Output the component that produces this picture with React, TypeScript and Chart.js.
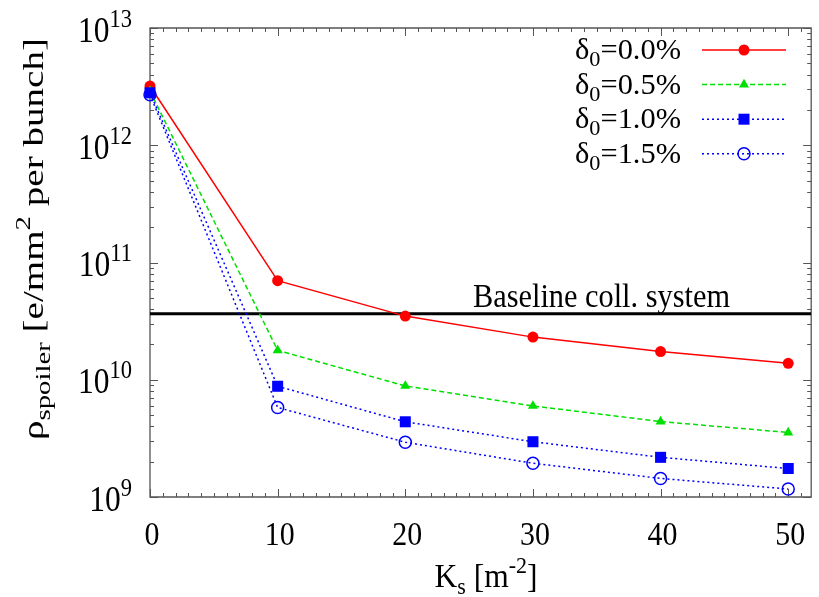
import React, { useEffect, useRef } from 'react';
import { Chart, registerables } from 'chart.js';

Chart.register(...registerables);

// ---------- data ----------
const ksValues = [0, 10, 20, 30, 40, 50];
const rhoDelta00 = [3.2e12, 7.0e10, 3.49e10, 2.31e10, 1.74e10, 1.38e10];
const rhoDelta05 = [2.9e12, 1.78e10, 8.85e9, 5.98e9, 4.4e9, 3.55e9];
const rhoDelta10 = [2.8e12, 8.8e9, 4.38e9, 2.96e9, 2.18e9, 1.75e9];
const rhoDelta15 = [2.7e12, 5.8e9, 2.93e9, 1.94e9, 1.44e9, 1.17e9];
const seriesPercents = ['0.0%', '0.5%', '1.0%', '1.5%'];
const baselineValue = 3.66e10;
const baselineLabel = 'Baseline coll. system';
const xTickValues = [0, 10, 20, 30, 40, 50];
const yTickValues = [1e9, 1e10, 1e11, 1e12, 1e13];
const X_MIN = 0;
const X_MAX = 51.8;
const Y_MIN = 1e9;
const Y_MAX = 1e13;

// ---------- style ----------
const SERIF = '"Liberation Serif", "Times New Roman", serif';
const RED = '#ff0000';
const GREEN = '#00e000';
const BLUE = '#0000ff';
const AXIS = '#555555';

type Part = { t: string; size: number; dy?: number };

function drawRich(
  ctx: CanvasRenderingContext2D,
  parts: Part[],
  x: number,
  y: number,
  align: 'left' | 'center' | 'right',
  opts: { rot?: number; sx?: number; sy?: number; fitWidth?: number } = {}
) {
  ctx.save();
  ctx.fillStyle = '#000';
  ctx.textBaseline = 'alphabetic';
  ctx.textAlign = 'left';
  let total = 0;
  const widths = parts.map((p) => {
    ctx.font = `${p.size}px ${SERIF}`;
    const w = ctx.measureText(p.t).width;
    total += w;
    return w;
  });
  const sx = opts.fitWidth ? opts.fitWidth / total : opts.sx ?? 0.88;
  const sy = opts.sy ?? 1;
  ctx.translate(x, y);
  if (opts.rot) ctx.rotate(opts.rot);
  ctx.scale(sx, sy);
  let cx = align === 'left' ? 0 : align === 'right' ? -total : -total / 2;
  parts.forEach((p, i) => {
    ctx.font = `${p.size}px ${SERIF}`;
    ctx.fillText(p.t, cx, p.dy ?? 0);
    cx += widths[i];
  });
  ctx.restore();
}

type Marker = 'circle' | 'triangle' | 'rect' | 'ocircle';

function drawMarker(ctx: CanvasRenderingContext2D, kind: Marker, x: number, y: number, color: string) {
  ctx.save();
  ctx.setLineDash([]);
  ctx.fillStyle = color;
  ctx.strokeStyle = color;
  ctx.beginPath();
  if (kind === 'circle') {
    ctx.arc(x, y, 5.5, 0, Math.PI * 2);
    ctx.fill();
  } else if (kind === 'triangle') {
    const r = 5.8;
    for (let k = 0; k < 3; k++) {
      const a = (k * 2 * Math.PI) / 3;
      const px = x + Math.sin(a) * r;
      const py = y - Math.cos(a) * r;
      if (k === 0) ctx.moveTo(px, py);
      else ctx.lineTo(px, py);
    }
    ctx.closePath();
    ctx.fill();
  } else if (kind === 'rect') {
    ctx.rect(x - 5.5, y - 5.5, 11, 11);
    ctx.fill();
  } else {
    ctx.lineWidth = 1.5;
    ctx.arc(x, y, 6, 0, Math.PI * 2);
    ctx.stroke();
  }
  ctx.restore();
}

const legendSpecs: { color: string; dash: number[]; marker: Marker }[] = [
  { color: RED, dash: [], marker: 'circle' },
  { color: GREEN, dash: [5, 3], marker: 'triangle' },
  { color: BLUE, dash: [2, 3], marker: 'rect' },
  { color: BLUE, dash: [2, 3], marker: 'ocircle' },
];

const decorPlugin = {
  id: 'decor',
  beforeDatasetsDraw(chart: any) {
    const { ctx, chartArea: a, scales } = chart;
    const xs = scales.x;
    const ys = scales.y;
    ctx.save();
    ctx.strokeStyle = AXIS;
    ctx.lineWidth = 1.3;
    ctx.beginPath();
    ctx.rect(a.left, a.top, a.right - a.left, a.bottom - a.top);
    ctx.stroke();
    ctx.lineWidth = 1;
    ctx.beginPath();
    for (let v = 0; v <= Math.floor(X_MAX); v++) {
      const px = Math.round(xs.getPixelForValue(v)) + 0.5;
      const len = xTickValues.includes(v) ? 8 : 4;
      ctx.moveTo(px, a.bottom);
      ctx.lineTo(px, a.bottom - len);
      ctx.moveTo(px, a.top);
      ctx.lineTo(px, a.top + len);
    }
    for (let d = 9; d <= 13; d++) {
      for (let m = 1; m <= 9; m++) {
        const v = m * Math.pow(10, d);
        if (v > Y_MAX * 1.0001) break;
        const py = Math.round(ys.getPixelForValue(v)) + 0.5;
        const len = m === 1 ? 8 : 4;
        ctx.moveTo(a.left, py);
        ctx.lineTo(a.left + len, py);
        ctx.moveTo(a.right, py);
        ctx.lineTo(a.right - len, py);
      }
    }
    ctx.stroke();
    ctx.restore();
  },
  afterDraw(chart: any) {
    const { ctx, scales } = chart;
    const xs = scales.x;
    const ys = scales.y;
    // y tick labels
    yTickValues.forEach((v) => {
      const py = ys.getPixelForValue(v);
      const exp = String(Math.round(Math.log10(v)));
      drawRich(ctx, [{ t: '10', size: 35 }, { t: exp, size: 25, dy: -15 }], 132, py + 13.5, 'right', { sx: 0.9 });
    });
    // x tick labels
    xTickValues.forEach((v) => {
      const px = xs.getPixelForValue(v);
      drawRich(ctx, [{ t: String(v), size: 34 }], px + 2, 545, 'center', { sx: 0.88 });
    });
    // x title
    drawRich(
      ctx,
      [
        { t: 'K', size: 33 },
        { t: 's', size: 23, dy: 7 },
        { t: ' [m', size: 33 },
        { t: '-2', size: 23, dy: -14 },
        { t: ']', size: 33 },
      ],
      486,
      587,
      'center',
      { fitWidth: 103 }
    );
    // y title
    drawRich(
      ctx,
      [
        { t: 'ρ', size: 34 },
        { t: 'spoiler', size: 25, dy: 8 },
        { t: ' [e/mm', size: 34 },
        { t: '2', size: 25, dy: -15 },
        { t: ' per bunch]', size: 34 },
      ],
      43,
      239,
      'center',
      { rot: -Math.PI / 2, fitWidth: 402, sy: 0.86 }
    );
    // baseline label
    drawRich(ctx, [{ t: baselineLabel, size: 33 }], 473, 307, 'left', { fitWidth: 257 });
    // legend
    legendSpecs.forEach((s, i) => {
      const ly = 50 + i * 34.6;
      drawRich(
        ctx,
        [
          { t: 'δ', size: 30 },
          { t: '0', size: 22, dy: 7 },
          { t: '=' + seriesPercents[i], size: 30 },
        ],
        681,
        ly + 9,
        'right',
        { fitWidth: 106 }
      );
      ctx.save();
      ctx.strokeStyle = s.color;
      ctx.lineWidth = 1.5;
      ctx.setLineDash(s.dash);
      ctx.beginPath();
      ctx.moveTo(702, ly);
      ctx.lineTo(786, ly);
      ctx.stroke();
      ctx.restore();
      drawMarker(ctx, s.marker, 744, ly, s.color);
    });
  },
};

function series(values: number[]) {
  return ksValues.map((k, i) => ({ x: k, y: values[i] }));
}

export default function App() {
  const ref = useRef<HTMLCanvasElement>(null);
  useEffect(() => {
    const canvas = ref.current;
    if (!canvas) return;
    const chart = new Chart(canvas, {
      type: 'line',
      data: {
        datasets: [
          {
            label: 'δ0=' + seriesPercents[0],
            data: series(rhoDelta00),
            borderColor: RED,
            backgroundColor: RED,
            borderWidth: 1.5,
            pointStyle: 'circle',
            pointRadius: 5.5,
            pointBackgroundColor: RED,
            pointBorderColor: RED,
            pointBorderWidth: 0,
            clip: false,
            order: 3,
          },
          {
            label: 'δ0=' + seriesPercents[1],
            data: series(rhoDelta05),
            borderColor: GREEN,
            backgroundColor: GREEN,
            borderWidth: 1.5,
            borderDash: [5, 3],
            pointStyle: 'triangle',
            pointRadius: 5.8,
            pointBackgroundColor: GREEN,
            pointBorderColor: GREEN,
            pointBorderWidth: 0,
            clip: false,
            order: 2,
          },
          {
            label: 'δ0=' + seriesPercents[2],
            data: series(rhoDelta10),
            borderColor: BLUE,
            backgroundColor: BLUE,
            borderWidth: 1.5,
            borderDash: [2, 3],
            pointStyle: 'rect',
            pointRadius: 7.8,
            pointBackgroundColor: BLUE,
            pointBorderColor: BLUE,
            pointBorderWidth: 0,
            clip: false,
            order: 0,
          },
          {
            label: 'δ0=' + seriesPercents[3],
            data: series(rhoDelta15),
            borderColor: BLUE,
            backgroundColor: 'rgba(0,0,0,0)',
            borderWidth: 1.5,
            borderDash: [2, 3],
            pointStyle: 'circle',
            pointRadius: 6,
            pointBackgroundColor: 'rgba(0,0,0,0)',
            pointBorderColor: BLUE,
            pointBorderWidth: 1.5,
            clip: false,
            order: 1,
          },
          {
            label: baselineLabel,
            data: [
              { x: X_MIN, y: baselineValue },
              { x: X_MAX, y: baselineValue },
            ],
            borderColor: '#000000',
            borderWidth: 3,
            pointRadius: 0,
            order: 4,
          },
        ],
      },
      options: {
        animation: false,
        responsive: false,
        events: [],
        layout: { padding: { top: 28, left: 0, right: 0, bottom: 0 } },
        elements: { line: { tension: 0 } },
        plugins: { legend: { display: false }, tooltip: { enabled: false }, title: { display: false } },
        scales: {
          x: {
            type: 'linear',
            min: X_MIN,
            max: X_MAX,
            grid: { display: false },
            border: { display: false },
            ticks: { display: false },
            afterFit: (s: any) => {
              s.height = 100;
            },
          },
          y: {
            type: 'logarithmic',
            min: Y_MIN,
            max: Y_MAX,
            grid: { display: false },
            border: { display: false },
            ticks: { display: false },
            afterFit: (s: any) => {
              s.width = 150;
            },
          },
        },
      },
      plugins: [decorPlugin],
    } as any);
    return () => chart.destroy();
  }, []);
  return (
    <div style={{ position: 'absolute', left: 0, top: 0, width: 819, height: 597, background: '#fff' }}>
      <canvas ref={ref} width={819} height={597} style={{ display: 'block', width: 819, height: 597 }} />
    </div>
  );
}
